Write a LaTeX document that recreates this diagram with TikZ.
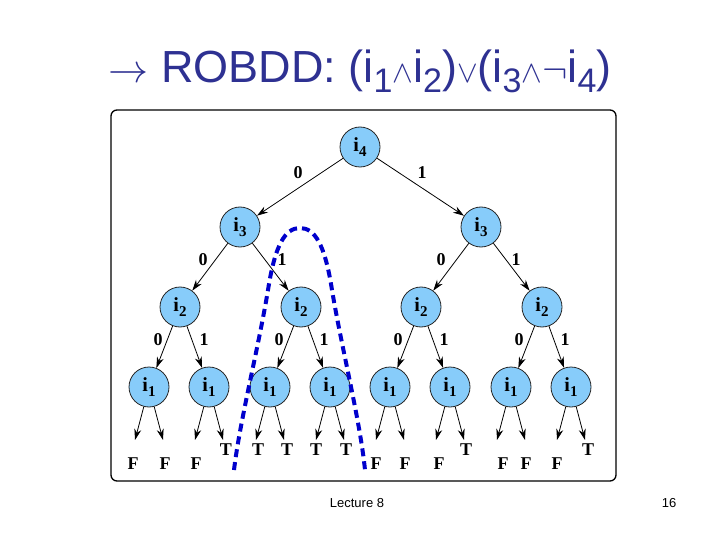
\RequirePackage{fix-cm}
\documentclass[tikz,border=0pt]{standalone}
\usepackage{fontspec}
\setmainfont{Liberation Serif}
\newfontfamily\titlefont{Liberation Sans}
\usetikzlibrary{arrows.meta}
\definecolor{titleblue}{RGB}{46,49,146}
\definecolor{nodeblue}{RGB}{135,204,250}
\definecolor{dashblue}{RGB}{0,0,204}
\newcommand\tsub[1]{\raisebox{-10pt}{\fontsize{34}{34}\selectfont #1}}
\newcommand\tsym[2]{{\fontsize{#1}{#1}\selectfont$#2$}}
\newcommand\nsub[1]{\raisebox{-4.5pt}{\fontsize{15}{15}\selectfont #1}}
\tikzset{
  bdd/.style={circle,draw=black!85,fill=nodeblue,line width=0.8pt,minimum size=40pt,inner sep=0pt,font=\fontsize{20}{20}\selectfont\bfseries},
  edge/.style={line width=0.8pt,-{Stealth[length=11pt,width=7pt]}},
  lab/.style={font=\fontsize{18}{18}\selectfont\bfseries,inner sep=0pt},
  frame/.style={line width=1.3pt,rounded corners=6pt},
  footer/.style={font=\titlefont\fontsize{13}{13}\selectfont,inner sep=0pt},
  cut/.style={draw=dashblue,line width=4pt,dash pattern=on 8pt off 5pt}
}
\begin{document}
\begin{tikzpicture}[x=1pt,y=-1pt]
\useasboundingbox (0,0) rectangle (720,540);
\node[anchor=base,inner sep=0pt,text=titleblue,font=\titlefont\fontsize{45}{45}\selectfont] (title) at (360,83)
  {\tsym{40}{\rightarrow}\ ROBDD: (i\tsub{1}\tsym{31}{\wedge}i\tsub{2})\tsym{31}{\vee}(i\tsub{3}\tsym{31}{\wedge}\tsym{38}{\neg}i\tsub{4})};
\draw[frame] (111,110) rectangle (616,481);
% decision nodes
\node[bdd] (n4) at (360,147) {i\nsub{4}};
\node[bdd] (n3a) at (240,227) {i\nsub{3}};
\node[bdd] (n3b) at (481,227) {i\nsub{3}};
\node[bdd] (n2a) at (180,307) {i\nsub{2}};
\node[bdd] (n2b) at (301,307) {i\nsub{2}};
\node[bdd] (n2c) at (421,307) {i\nsub{2}};
\node[bdd] (n2d) at (542,307) {i\nsub{2}};
\foreach \nm/\x in {a/149,b/209,c/270,d/330,e/390,f/450,g/511,h/571}{
  \node[bdd] (n1\nm) at (\x,387) {i\nsub{1}};
  \coordinate (e\nm l) at (\x-14,440);
  \coordinate (e\nm r) at (\x+14,440);
  \draw[edge] (n1\nm) -- (e\nm l);
  \draw[edge] (n1\nm) -- (e\nm r);
}
% edges
\draw[edge] (n4) -- (n3a);
\draw[edge] (n4) -- (n3b);
\draw[edge] (n3a) -- (n2a);
\draw[edge] (n3a) -- (n2b);
\draw[edge] (n3b) -- (n2c);
\draw[edge] (n3b) -- (n2d);
\draw[edge] (n2a) -- (n1a);
\draw[edge] (n2a) -- (n1b);
\draw[edge] (n2b) -- (n1c);
\draw[edge] (n2b) -- (n1d);
\draw[edge] (n2c) -- (n1e);
\draw[edge] (n2c) -- (n1f);
\draw[edge] (n2d) -- (n1g);
\draw[edge] (n2d) -- (n1h);
% edge labels
\node[lab] (l40) at (298,173) {0};
\node[lab] (l41) at (422,173) {1};
\node[lab] (l3a0) at (203,260) {0};
\node[lab] (l3a1) at (282,260) {1};
\node[lab] (l3b0) at (441,260) {0};
\node[lab] (l3b1) at (516,260) {1};
\node[lab] (l2a0) at (158,340) {0};
\node[lab] (l2a1) at (204,340) {1};
\node[lab] (l2b0) at (279,340) {0};
\node[lab] (l2b1) at (324,340) {1};
\node[lab] (l2c0) at (398,340) {0};
\node[lab] (l2c1) at (444,340) {1};
\node[lab] (l2d0) at (519,340) {0};
\node[lab] (l2d1) at (565,340) {1};
% leaves
\node[lab] (f1) at (133,464) {F};
\node[lab] (f2) at (165,464) {F};
\node[lab] (f3) at (196,464) {F};
\node[lab] (t1) at (226,450) {T};
\node[lab] (t2) at (258,450) {T};
\node[lab] (t3) at (287,450) {T};
\node[lab] (t4) at (316,450) {T};
\node[lab] (t5) at (346,450) {T};
\node[lab] (f4) at (376,464) {F};
\node[lab] (f5) at (405,464) {F};
\node[lab] (f6) at (439,464) {F};
\node[lab] (t6) at (466,450) {T};
\node[lab] (f7) at (503,464) {F};
\node[lab] (f8) at (526,464) {F};
\node[lab] (f9) at (557,464) {F};
\node[lab] (t7) at (588,450) {T};
% cut curve
\draw[cut] (234,470) .. controls (240,420) and (258,350) .. (268,290)
  .. controls (275,245) and (285,228) .. (300,228)
  .. controls (315,228) and (325,245) .. (332,290)
  .. controls (342,350) and (360,420) .. (365,470);
% footer
\node[footer] (lect) at (357,503) {Lecture 8};
\node[footer] (page) at (669,503) {16};
\end{tikzpicture}
\end{document}
